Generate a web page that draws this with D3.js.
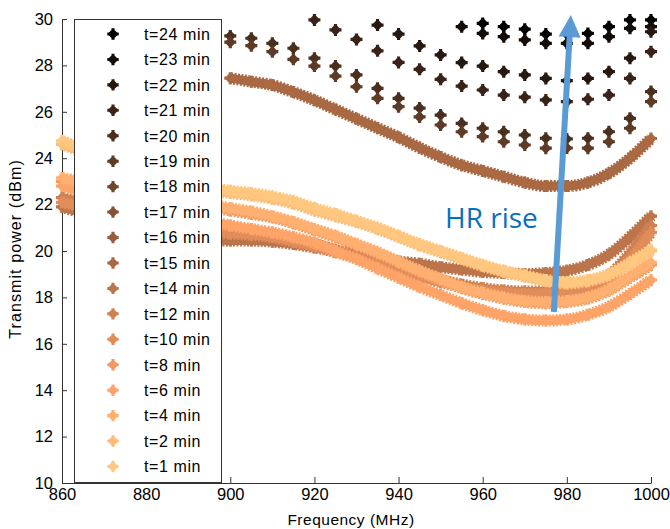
<!DOCTYPE html>
<html>
<head>
<meta charset="utf-8">
<script src="https://cdn.jsdelivr.net/npm/d3@7"></script>
<style>
body { margin: 0; background: #fff; }
text { font-family: "Liberation Sans", Arial, sans-serif; fill: #000; }
</style>
</head>
<body>
<svg id="chart" width="670" height="529"></svg>
<script>
// Frequencies (MHz): dark runs are sampled every 5 MHz, light runs are dense bands
var freqSparse = [900, 905, 910, 915, 920, 925, 930, 935, 940, 945, 950,
		  955, 960, 965, 970, 975, 980, 985, 990, 995, 1000];
var freqDense = [860, 900, 905, 910, 915, 920, 925, 930, 935, 940, 945, 950,
		 955, 960, 965, 970, 975, 980, 985, 990, 995, 1000];

var legendLabels = ["t=24 min", "t=23 min", "t=22 min", "t=21 min", "t=20 min", "t=19 min",
		    "t=18 min", "t=17 min", "t=16 min", "t=15 min", "t=14 min", "t=12 min",
		    "t=10 min", "t=8 min", "t=6 min", "t=4 min", "t=2 min", "t=1 min"];

// Transmit power (dBm), null = off the top of the plot
var t24 = [null, null, null, null, null, null, null, null, null, null, null,
	   null, 29.81, 29.67, 29.56, 29.35, 29.35, 29.38, 29.67, 29.96, 29.96];
var t23 = [null, null, null, null, null, null, null, null, null, null, null,
	   29.67, 29.38, 29.24, 29.1, 28.95, 28.95, 28.95, 29.24, 29.6, 29.67];
var t22 = [null, null, null, null, null, null, null, 29.74, 29.35, 28.84, 28.45,
	   28.12, 27.97, 27.73, 27.59, 27.44, 27.34, 27.44, 27.73, 28.31, 29.45];
var t21 = [null, null, null, null, 29.96, 29.53, 29.12, 28.63, 28.13, 27.83, 27.4,
	   27.11, 26.94, 26.72, 26.63, 26.51, 26.44, 26.54, 26.72, 27.44, 28.59];
var t20 = [29.27, 29.17, 28.95, 28.74, 28.31, 27.97, 27.59, 27.01, 26.58, 26.16, 25.86,
	   25.5, 25.29, 25.14, 25.0, 24.86, 24.83, 24.86, 25.14, 25.72, 26.87];
var t19 = [29.0, 28.85, 28.59, 28.26, 27.97, 27.54, 27.08, 26.58, 26.22, 25.78, 25.43,
	   25.14, 24.93, 24.71, 24.57, 24.43, 24.44, 24.43, 24.71, 25.29, 26.44];
var t18 = [];
var t17 = [];
var t16 = [];
var t15 = [null, 27.45, 27.3, 27.15, 26.85, 26.5, 26.1, 25.7, 25.3, 24.9, 24.45, 24.05,
	   23.7, 23.45, 23.2, 22.95, 22.8, 22.8, 22.95, 23.35, 24.0, 24.85];
var t14 = [21.9, 20.45, 20.45, 20.4, 20.3, 20.15, 20.0, 19.85, 19.7, 19.55, 19.45, 19.3,
	   19.2, 19.1, 19.05, 19.0, 19.05, 19.15, 19.4, 19.85, 20.6, 21.5];
var t12 = [22.3, 20.95, 20.85, 20.7, 20.5, 20.3, 20.05, 19.8, 19.5, 19.2, 18.95, 18.75,
	   18.55, 18.4, 18.3, 18.25, 18.25, 18.3, 18.5, 18.95, 19.9, 21.1];
var t10 = [22.1, 20.75, 20.7, 20.6, 20.4, 20.2, 19.95, 19.7, 19.4, 19.1, 18.85, 18.65,
	   18.45, 18.3, 18.2, 18.15, 18.15, 18.2, 18.35, 18.8, 19.6, 20.8];
var t8 = [23.0, 21.75, 21.6, 21.45, 21.2, 20.9, 20.6, 20.25, 19.9, 19.5, 19.1, 18.75,
	  18.4, 18.15, 17.95, 17.8, 17.75, 17.8, 17.95, 18.3, 18.85, 19.4];
var t6 = [22.8, 21.1, 20.95, 20.8, 20.6, 20.35, 20.0, 19.65, 19.25, 18.85, 18.45, 18.1,
	  17.75, 17.45, 17.2, 17.05, 17.0, 17.05, 17.25, 17.6, 18.15, 18.75];
var t4 = [23.15, 21.85, 21.7, 21.5, 21.25, 20.95, 20.65, 20.3, 19.95, 19.55, 19.15, 18.8,
	  18.45, 18.2, 18.0, 17.85, 17.8, 17.85, 18.0, 18.35, 18.9, 19.5];
var t2 = [24.6, 22.5, 22.4, 22.25, 22.05, 21.75, 21.5, 21.25, 20.95, 20.6, 20.25, 19.95,
	  19.65, 19.35, 19.1, 18.9, 18.7, 18.6, 18.7, 18.95, 19.45, 20.0];
var t1 = [24.75, 22.6, 22.5, 22.35, 22.15, 21.85, 21.6, 21.3, 21.0, 20.65, 20.3, 20.0,
	  19.7, 19.4, 19.15, 18.95, 18.75, 18.65, 18.75, 19.0, 19.5, 20.05];

var xTicks = [860, 880, 900, 920, 940, 960, 980, 1000];
var yTicks = [10, 12, 14, 16, 18, 20, 22, 24, 26, 28, 30];

// same order as the legend
var values = [t24, t23, t22, t21, t20, t19, t18, t17, t16, t15, t14, t12, t10, t8, t6, t4, t2, t1];
var dense = [false, false, false, false, false, false, true, true, true, true, true,
	     true, true, true, true, true, true, true];

// matlab copper colormap
function copper(v) {
    return d3.rgb(Math.min(1, 1.25 * v) * 255, 0.7812 * v * 255, 0.4975 * v * 255).toString();
}

var series = values.map(function(vals, i) {
    var freqs = dense[i] ? freqDense : freqSparse;
    return {
	label: legendLabels[i],
	color: copper(i / (values.length - 1)),
	dense: dense[i],
	points: vals.map(function(v, j) { return {f: freqs[j], p: v}; })
    };
});

var svg = d3.select("#chart");
var x = d3.scaleLinear().domain([860, 1000]).range([62, 651]);
var y = d3.scaleLinear().domain([10, 30]).range([483, 19]);

// plus/diamond marker
function markerPath(s) {
    var L = 6 * s, w = 1.6 * s, d = 5.8 * s;
    return "M" + (-L) + "," + (-w) + "H" + L + "V" + w + "H" + (-L) + "Z" +
	"M" + (-w) + "," + (-L) + "H" + w + "V" + L + "H" + (-w) + "Z" +
	"M0," + (-d) + "L" + d + ",0L0," + d + "L" + (-d) + ",0Z";
}

// Axes
var axisColor = "#333";
var gx = svg.append("g")
    .attr("transform", "translate(0," + y(10) + ")")
    .call(d3.axisBottom(x).tickValues(xTicks).tickFormat(d3.format("d"))
	  .tickSizeInner(-6).tickSizeOuter(0).tickPadding(5));
var gy = svg.append("g")
    .attr("transform", "translate(" + x(860) + ",0)")
    .call(d3.axisLeft(y).tickValues(yTicks).tickSizeInner(-5).tickSizeOuter(0).tickPadding(9));
[gx, gy].forEach(function(g) {
    g.select(".domain").attr("stroke", axisColor);
    g.selectAll(".tick line").attr("stroke", axisColor);
    g.selectAll(".tick text")
	.attr("fill", "#000")
	.style("font-size", "16.5px")
	.style("font-family", "'Liberation Sans', Arial, sans-serif");
});

// Axis labels
svg.append("text")
    .attr("x", 351).attr("y", 525)
    .attr("text-anchor", "middle")
    .style("font-size", "15.5px")
    .style("letter-spacing", "0.5px")
    .text("Frequency (MHz)");
svg.append("text")
    .attr("transform", "translate(21,249) rotate(-90)")
    .attr("text-anchor", "middle")
    .style("font-size", "16px")
    .style("letter-spacing", "1.1px")
    .text("Transmit power (dBm)");

// Data
var line = d3.line()
    .defined(function(d) { return d.p != null; })
    .x(function(d) { return x(d.f); })
    .y(function(d) { return y(d.p); })
    .curve(d3.curveMonotoneX);

var gdata = svg.append("g");
series.forEach(function(s) {
    var pts = s.points.filter(function(d) { return d.p != null; });
    if (s.dense) {
	gdata.append("path")
	    .attr("d", line(s.points))
	    .attr("fill", "none")
	    .attr("stroke", s.color)
	    .attr("stroke-width", 9);
	gdata.append("path")
	    .attr("d", line(s.points))
	    .attr("fill", "none")
	    .attr("stroke", s.color)
	    .attr("stroke-width", 12)
	    .attr("stroke-dasharray", "2,1.5");
    }
    gdata.selectAll(null)
	.data(pts)
	.enter().append("path")
	.attr("d", markerPath(1))
	.attr("transform", function(d) { return "translate(" + x(d.f) + "," + y(d.p) + ")"; })
	.attr("fill", s.color);
});

// Legend
var lg = svg.append("g");
lg.append("rect")
    .attr("x", 74.5).attr("y", 19.5)
    .attr("width", 147).attr("height", 463)
    .attr("fill", "#fff")
    .attr("stroke", axisColor);
var rowY = d3.scaleLinear().domain([0, series.length - 1]).range([34, 466.5]);
series.forEach(function(s, i) {
    lg.append("path")
	.attr("d", markerPath(0.95))
	.attr("transform", "translate(113," + rowY(i) + ")")
	.attr("fill", s.color);
    lg.append("text")
	.attr("x", 144).attr("y", rowY(i) + 5.8)
	.style("font-size", "16px")
	.style("letter-spacing", "0.6px")
	.text(s.label);
});

// "HR rise" arrow annotation
var a0 = [x(976.9), y(17.37)], a1 = [x(980.95), y(30.17)];
var dx = a1[0] - a0[0], dy = a1[1] - a0[1];
var len = Math.sqrt(dx * dx + dy * dy);
var ux = dx / len, uy = dy / len, nx = -uy, ny = ux;
var headL = 22, headW = 11, shaftW = 3;
var hb = [a1[0] - ux * headL, a1[1] - uy * headL];
var arrowPts = [
    [a0[0] + nx * shaftW, a0[1] + ny * shaftW],
    [hb[0] + nx * shaftW, hb[1] + ny * shaftW],
    [hb[0] + nx * headW, hb[1] + ny * headW],
    a1,
    [hb[0] - nx * headW, hb[1] - ny * headW],
    [hb[0] - nx * shaftW, hb[1] - ny * shaftW],
    [a0[0] - nx * shaftW, a0[1] - ny * shaftW]
];
svg.append("path")
    .attr("d", "M" + arrowPts.map(function(p) { return p.join(","); }).join("L") + "Z")
    .attr("fill", "#5b9bd5");

svg.append("text")
    .attr("x", 445).attr("y", 228)
    .style("font-family", "'Open Sans', 'Noto Sans', sans-serif")
    .style("font-size", "28px")
    .style("fill", "#0b6fc0")
    .text("HR rise");
</script>
</body>
</html>
